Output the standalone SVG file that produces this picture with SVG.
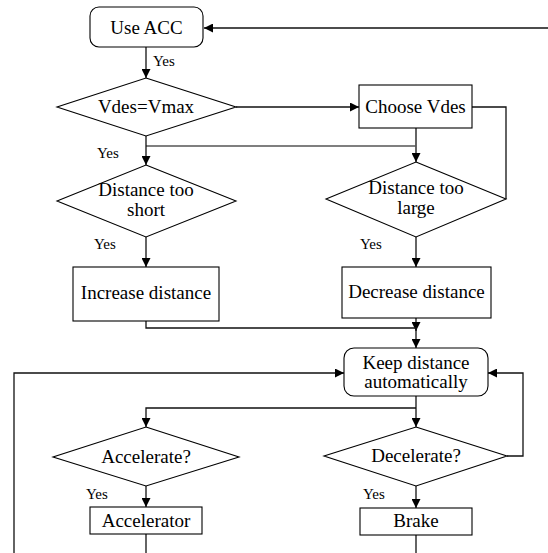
<svg xmlns="http://www.w3.org/2000/svg" width="548" height="553" viewBox="0 0 548 553">
<style>
.shape{fill:#fff;stroke:#000;stroke-width:1.1}
.lbl{font-family:'Liberation Serif','Tinos','Times New Roman','DejaVu Serif',serif;font-size:19px;fill:#000;text-anchor:middle}
.yes{font-family:'Liberation Serif','Tinos','Times New Roman','DejaVu Serif',serif;font-size:15px;fill:#000}
.c{fill:none;stroke:#111;stroke-width:1.3}
.g{fill:none;stroke:#555;stroke-width:1.6}
</style>
<defs>
<marker id="ah" viewBox="0 0 10 10" refX="10" refY="5" markerWidth="9" markerHeight="9" markerUnits="userSpaceOnUse" orient="auto">
<path d="M0,0 L10,5 L0,10 Z" fill="#000"/>
</marker>
</defs>
<rect width="548" height="553" fill="#fff"/>
<g id="connectors">
<path class="c" d="M548,28 L204,28" marker-end="url(#ah)"/>
<path class="c" d="M146,47 L146,78" marker-end="url(#ah)"/>
<path class="c" d="M236,107 L359,107" marker-end="url(#ah)"/>
<path class="c" d="M472,107 L506,107 L506,199"/>
<path class="c" d="M416,128 L416,162" marker-end="url(#ah)"/>
<path class="g" d="M146,146 L416,146"/>
<path class="c" d="M146,136 L146,165" marker-end="url(#ah)"/>
<path class="c" d="M146,237 L146,267" marker-end="url(#ah)"/>
<path class="c" d="M416,237 L416,267" marker-end="url(#ah)"/>
<path class="c" d="M416,318 L416,331" marker-end="url(#ah)"/>
<path class="c" d="M146,321 L146,328 L416,328 L416,348" marker-end="url(#ah)"/>
<path class="c" d="M14,553 L14,373 L344,373" marker-end="url(#ah)"/>
<path class="c" d="M507,456 L523,456 L523,373 L488,373" marker-end="url(#ah)"/>
<path class="c" d="M416,396 L416,427" marker-end="url(#ah)"/>
<path class="c" d="M416,408 L146,408 L146,427" marker-end="url(#ah)"/>
<path class="c" d="M146,486 L146,507" marker-end="url(#ah)"/>
<path class="c" d="M416,486 L416,508" marker-end="url(#ah)"/>
<path class="c" d="M146,534 L146,553"/>
<path class="c" d="M416,535 L416,553"/>
</g>
<g id="labels" font-family="Liberation Serif, serif">
<text class="yes" x="153" y="66">Yes</text>
<text class="yes" x="97" y="158">Yes</text>
<text class="yes" x="94" y="249">Yes</text>
<text class="yes" x="360" y="249">Yes</text>
<text class="yes" x="86" y="499">Yes</text>
<text class="yes" x="363" y="499">Yes</text>
</g>
<g id="use-acc">
<rect class="shape" x="90" y="7" width="113" height="40" rx="9" ry="9"/>
<text class="lbl" x="146.5" y="34">Use ACC</text>
</g>
<g id="vdes-vmax">
<polygon class="shape" points="146,78 236,107 146,136 57,107"/>
<text class="lbl" x="146" y="113">Vdes=Vmax</text>
</g>
<g id="choose-vdes">
<rect class="shape" x="359" y="85" width="113" height="43"/>
<text class="lbl" x="415.5" y="113">Choose Vdes</text>
</g>
<g id="distance-too-short">
<polygon class="shape" points="146,165 236,201 146,237 57,201"/>
<text class="lbl" x="146" y="196">Distance too</text>
<text class="lbl" x="146" y="216">short</text>
</g>
<g id="distance-too-large">
<polygon class="shape" points="416,162 506,199 416,237 326,199"/>
<text class="lbl" x="416" y="194">Distance too</text>
<text class="lbl" x="416" y="214">large</text>
</g>
<g id="increase-distance">
<rect class="shape" x="73" y="267" width="146" height="54"/>
<text class="lbl" x="146" y="299">Increase distance</text>
</g>
<g id="decrease-distance">
<rect class="shape" x="342" y="267" width="149" height="51"/>
<text class="lbl" x="416.5" y="298">Decrease distance</text>
</g>
<g id="keep-distance">
<rect class="shape" x="344" y="348" width="144" height="48" rx="10" ry="10"/>
<text class="lbl" x="416" y="369">Keep distance</text>
<text class="lbl" x="416" y="388">automatically</text>
</g>
<g id="accelerate">
<polygon class="shape" points="146,427 239,457 146,486 53,457"/>
<text class="lbl" x="146" y="463">Accelerate?</text>
</g>
<g id="decelerate">
<polygon class="shape" points="416,427 507,456 416,486 324,456"/>
<text class="lbl" x="416" y="462">Decelerate?</text>
</g>
<g id="accelerator">
<rect class="shape" x="90" y="507" width="112" height="27"/>
<text class="lbl" x="146" y="527">Accelerator</text>
</g>
<g id="brake">
<rect class="shape" x="360" y="508" width="112" height="27"/>
<text class="lbl" x="416" y="527">Brake</text>
</g>
</svg>
